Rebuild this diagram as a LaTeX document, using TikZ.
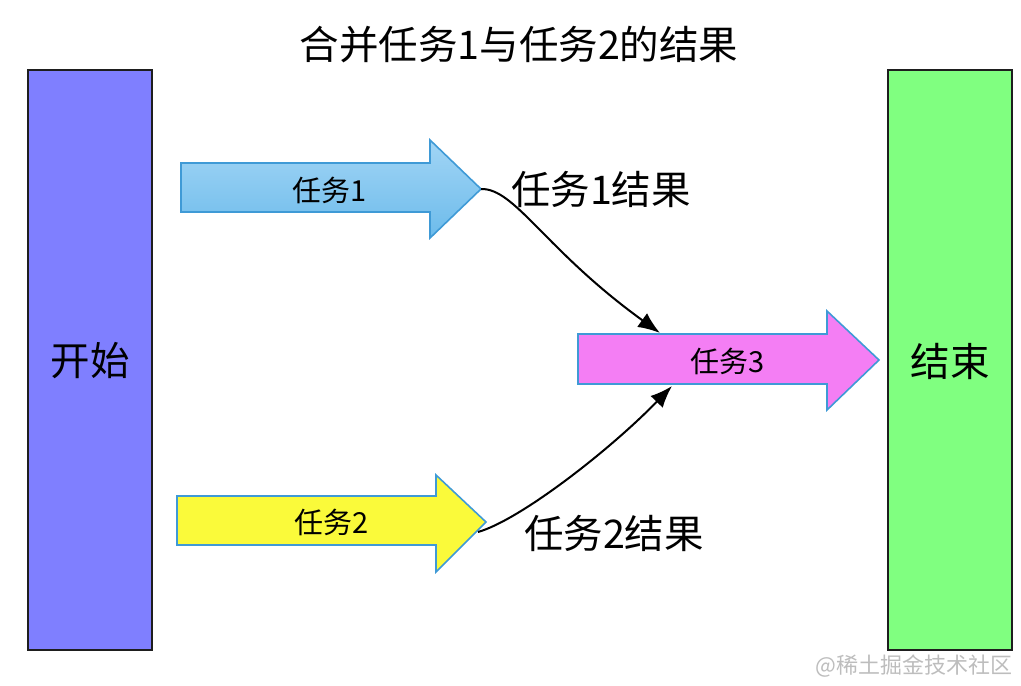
\documentclass[tikz,border=0pt]{standalone}
\usepackage{fontspec}
\newfontfamily\cjk{Noto Sans CJK SC}
\usetikzlibrary{arrows.meta}
\definecolor{startfill}{HTML}{7F7FFF}
\definecolor{endfill}{HTML}{80FF80}
\definecolor{barline}{HTML}{1E1E1E}
\definecolor{aline}{HTML}{3F9AD6}
\definecolor{bluelight}{HTML}{A2D5F5}
\definecolor{bluedark}{HTML}{6CBBEB}
\definecolor{yel}{HTML}{FAFA3A}
\definecolor{mag}{HTML}{F47EF4}
\definecolor{wm}{HTML}{BDBDBD}
\tikzset{
  bar/.style={draw=barline, line width=2pt},
  taskarrow/.style={draw=aline, line width=1.6pt, line join=miter},
  big/.style={font=\cjk\fontsize{39.5}{42}\selectfont, inner sep=0pt},
  small/.style={font=\cjk\fontsize{29}{32}\selectfont, inner sep=0pt},
  conn/.style={black, line width=2pt, -{Latex[length=22pt,width=17pt]}}
}
\begin{document}
\begin{tikzpicture}[x=1pt,y=-1pt]
\useasboundingbox (0,0) rectangle (1021,686);
% bars
\draw[bar, fill=startfill] (28,70) rectangle (152,650);
\draw[bar, fill=endfill] (888,70) rectangle (1012,650);
\node[big] (start) at (90,361) {开始};
\node[big] (end) at (950,361) {结束};
% title
\node[big] (title) at (519,45) {合并任务1与任务2的结果};
% task arrows
\draw[taskarrow, top color=bluelight, bottom color=bluedark]
  (181,163) -- (430,163) -- (430,140) -- (481,189) -- (430,238) -- (430,212) -- (181,212) -- cycle;
\draw[taskarrow, fill=yel]
  (177,496) -- (436,496) -- (436,475) -- (486,522) -- (436,572) -- (436,545) -- (177,545) -- cycle;
\draw[taskarrow, fill=mag]
  (578,334) -- (827,334) -- (827,311) -- (879,360) -- (827,410) -- (827,384) -- (578,384) -- cycle;
\node[small] (t1) at (330,190) {任务1};
\node[small] (t2) at (332,522) {任务2};
\node[small] (t3) at (728,361) {任务3};
\coordinate (tip1) at (481,189);
\coordinate (tip2) at (478,532);
\coordinate (in1) at (660,333);
\coordinate (in2) at (672,386);
% connectors
\draw[conn] (tip1) .. controls (515,188) and (545,250) .. (in1);
\draw[conn] (tip2) .. controls (520,520) and (610,450) .. (in2);
\node[big] (r1) at (601,189) {任务1结果};
\node[big] (r2) at (614,533) {任务2结果};
% watermark
\node[font=\cjk\fontsize{22}{24}\selectfont, text=wm, inner sep=0pt] (wmk) at (914,666) {@稀土掘金技术社区};
\end{tikzpicture}
\end{document}
